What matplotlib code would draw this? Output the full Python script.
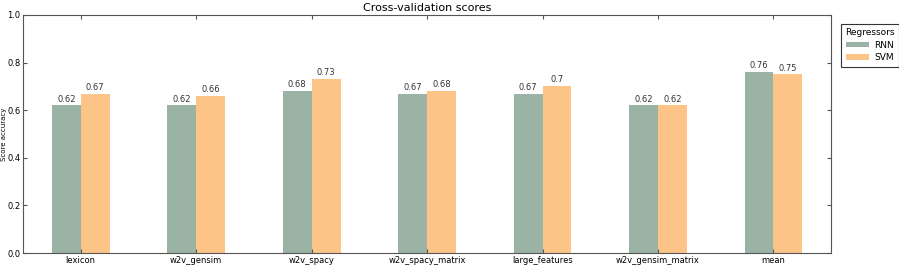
import numpy as np
import matplotlib.pyplot as plt

categories = ['lexicon', 'w2v_gensim', 'w2v_spacy', 'w2v_spacy_matrix',
              'large_features', 'w2v_gensim_matrix', 'mean']
rnn = [0.62, 0.62, 0.68, 0.67, 0.67, 0.62, 0.76]
svm = [0.67, 0.66, 0.73, 0.68, 0.7, 0.62, 0.75]
series = ['RNN', 'SVM']
colors = ['#9AB3A5', '#FDC488']


def plot_scores() -> None:
    fig = plt.figure(figsize=(8.99, 2.76), dpi=100)
    ax = fig.add_axes([0.0256, 0.0833, 0.899, 0.8624])
    x = np.arange(len(categories))
    w = 0.25
    for i, (name, vals) in enumerate(zip(series, [rnn, svm])):
        pos = x + (i - 0.5) * w
        ax.bar(pos, vals, width=w, color=colors[i], label=name, linewidth=0)
        for p, v in zip(pos, vals):
            ax.text(p, v + 0.008, str(v), ha='center', va='bottom',
                    fontsize=6, color='#333333')
    ax.set_xlim(-0.5, len(categories) - 0.5)
    ax.set_ylim(0, 1.0)
    ax.set_xticks(x)
    ax.set_xticklabels(categories)
    ax.set_yticks(np.arange(0, 1.01, 0.2))
    ax.tick_params(direction='in', top=True, right=True, labelsize=6,
                   length=3, pad=2.5, colors='#555555', labelcolor='black')
    ax.tick_params(axis='y', pad=1.8)
    for s in ax.spines.values():
        s.set_color('#555555')
    ax.set_title('Cross-validation scores', fontsize=8, pad=3)
    ax.set_ylabel('Score accuracy', fontsize=5)
    ax.yaxis.set_label_coords(-0.0195, 0.5)
    leg = ax.legend(title='Regressors', loc='upper left',
                    bbox_to_anchor=(1.006, 0.983), fontsize=6.5,
                    title_fontsize=6.5, fancybox=False, framealpha=1,
                    edgecolor='#333333', handlelength=2.6, handleheight=0.6,
                    borderpad=0.5, labelspacing=0.4, handletextpad=0.6)
    leg.get_frame().set_linewidth(0.8)
    fig.savefig('out.png')


if __name__ == '__main__':
    plot_scores()
